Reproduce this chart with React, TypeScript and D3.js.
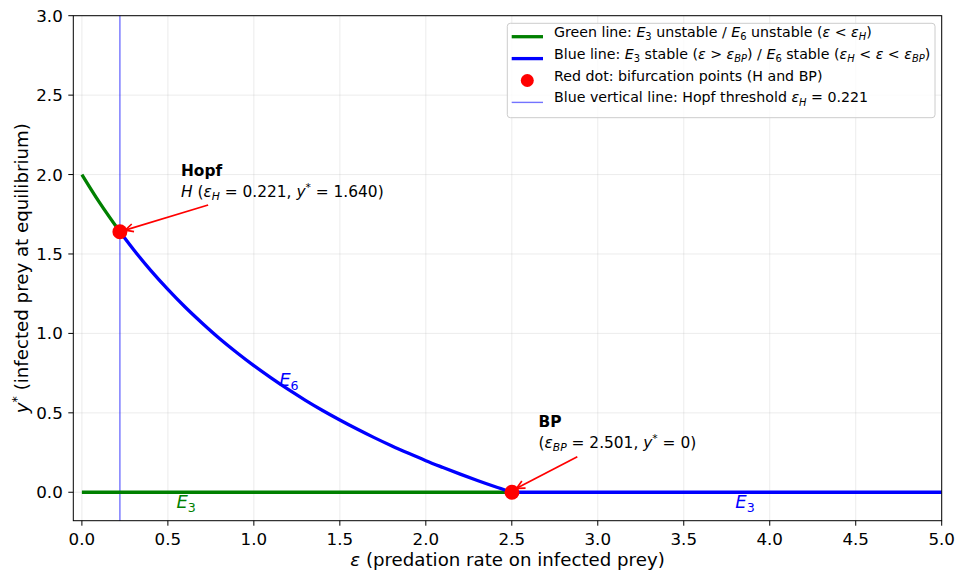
import React from "react";
import * as d3 from "d3";

const W = 957;
const H = 572;

// E6 branch (y* vs epsilon)
const e6Eps = [0, 0.1, 0.221, 0.3, 0.4, 0.5, 0.6, 0.7, 0.8, 0.9, 1.0, 1.1, 1.2, 1.3, 1.4, 1.5, 1.6, 1.7, 1.8, 1.9, 2.0, 2.1, 2.2, 2.3, 2.4, 2.501];
const e6Y = [2.0, 1.828, 1.64, 1.528, 1.397, 1.277, 1.166, 1.064, 0.968, 0.88, 0.797, 0.72, 0.647, 0.579, 0.515, 0.455, 0.398, 0.344, 0.293, 0.245, 0.199, 0.156, 0.114, 0.074, 0.036, 0];
const epsH = 0.221;
const yH = 1.64;
const epsBP = 2.501;
const yBP = 0;
const epsMax = 5.0;
const xTicks = [0, 0.5, 1, 1.5, 2, 2.5, 3, 3.5, 4, 4.5, 5];
const yTicks = [0, 0.5, 1, 1.5, 2, 2.5, 3];

type Seg = { t: string; it?: boolean; sub?: boolean; sup?: boolean; b?: boolean };

function MT({ segs, fs }: { segs: Seg[]; fs: number }) {
  let cur = 0;
  return (
    <>
      {segs.map((s, i) => {
        const target = s.sub ? fs * 0.22 : s.sup ? -fs * 0.38 : 0;
        const dy = target - cur;
        cur = target;
        return (
          <tspan
            key={i}
            dy={dy}
            fontStyle={s.it ? "italic" : "normal"}
            fontWeight={s.b ? "bold" : "normal"}
            fontSize={s.sub || s.sup ? fs * 0.7 : fs}
          >
            {s.t}
          </tspan>
        );
      })}
    </>
  );
}

export default function App() {
  const m = { l: 73.3, r: 941.7, t: 15.7, b: 520.7 };
  const x = d3.scaleLinear().domain([-0.05, epsMax]).range([m.l, m.r]);
  const y = d3.scaleLinear().domain([-0.179, 3.0]).range([m.b, m.t]);

  const pts = e6Eps.map((e, i) => [e, e6Y[i]] as [number, number]);
  const line = d3
    .line<[number, number]>()
    .x((d) => x(d[0]))
    .y((d) => y(d[1]))
    .curve(d3.curveMonotoneX);
  const greenE6 = pts.filter((d) => d[0] <= epsH);
  const blueE6 = pts.filter((d) => d[0] >= epsH);

  const tickFs = 16.7;
  const labFs = 18.2;
  const legFs = 14.2;
  const annFs = 15.4;
  const eFs = 18;
  const lw = 3.3;

  const arrow = (x0: number, y0: number, x1: number, y1: number) => {
    const ax0 = x(x0), ay0 = y(y0), ax1 = x(x1), ay1 = y(y1);
    const ang = Math.atan2(ay1 - ay0, ax1 - ax0);
    const hl = 8, hw = 4;
    const bx = ax1 - hl * Math.cos(ang), by = ay1 - hl * Math.sin(ang);
    const px = -Math.sin(ang) * hw, py = Math.cos(ang) * hw;
    return (
      <g stroke="red" strokeWidth={1.7} fill="none">
        <line x1={ax0} y1={ay0} x2={ax1} y2={ay1} />
        <path d={`M${bx + px},${by + py}L${ax1},${ay1}L${bx - px},${by - py}`} />
      </g>
    );
  };

  const legRows: { kind: string; segs: Seg[] }[] = [
    {
      kind: "green",
      segs: [
        { t: "Green line: " }, { t: "E", it: true }, { t: "3", sub: true }, { t: " unstable / " },
        { t: "E", it: true }, { t: "6", sub: true }, { t: " unstable (" }, { t: "ε", it: true },
        { t: " < " }, { t: "ε", it: true }, { t: "H", it: true, sub: true }, { t: ")" },
      ],
    },
    {
      kind: "blue",
      segs: [
        { t: "Blue line: " }, { t: "E", it: true }, { t: "3", sub: true }, { t: " stable (" },
        { t: "ε", it: true }, { t: " > " }, { t: "ε", it: true }, { t: "BP", it: true, sub: true },
        { t: ") / " }, { t: "E", it: true }, { t: "6", sub: true }, { t: " stable (" },
        { t: "ε", it: true }, { t: "H", it: true, sub: true }, { t: " < " }, { t: "ε", it: true },
        { t: " < " }, { t: "ε", it: true }, { t: "BP", it: true, sub: true }, { t: ")" },
      ],
    },
    { kind: "dot", segs: [{ t: "Red dot: bifurcation points (H and BP)" }] },
    {
      kind: "vline",
      segs: [
        { t: "Blue vertical line: Hopf threshold " }, { t: "ε", it: true }, { t: "H", it: true, sub: true },
        { t: " = 0.221" },
      ],
    },
  ];

  return (
    <svg width={W} height={H} style={{ position: "absolute", left: 0, top: 0 }} fontFamily="DejaVu Sans">
      <rect width={W} height={H} fill="white" />
      {/* grid */}
      <g stroke="#b0b0b0" strokeOpacity={0.3} strokeWidth={0.8}>
        {xTicks.map((t) => (
          <line key={"gx" + t} x1={x(t)} x2={x(t)} y1={m.t} y2={m.b} />
        ))}
        {yTicks.map((t) => (
          <line key={"gy" + t} x1={m.l} x2={m.r} y1={y(t)} y2={y(t)} />
        ))}
      </g>
      {/* vertical Hopf line */}
      <line x1={x(epsH)} x2={x(epsH)} y1={m.t} y2={m.b} stroke="blue" strokeOpacity={0.55} strokeWidth={1.4} />
      {/* E3 branch */}
      <line x1={x(0)} x2={x(epsBP)} y1={y(0)} y2={y(0)} stroke="green" strokeWidth={lw} />
      <line x1={x(epsBP)} x2={x(epsMax)} y1={y(0)} y2={y(0)} stroke="blue" strokeWidth={lw} />
      {/* E6 branch */}
      <path d={line(greenE6) || ""} fill="none" stroke="green" strokeWidth={lw} />
      <path d={line(blueE6) || ""} fill="none" stroke="blue" strokeWidth={lw} />
      {/* bifurcation points */}
      <circle cx={x(epsH)} cy={y(yH)} r={7.5} fill="red" />
      <circle cx={x(epsBP)} cy={y(yBP)} r={7.5} fill="red" />
      {/* labels on branches */}
      <text x={x(1.147)} y={y(0.67)} fill="blue" fontSize={eFs}>
        <MT fs={eFs} segs={[{ t: "E", it: true }, { t: "6", sub: true }]} />
      </text>
      <text x={x(0.55)} y={y(-0.1)} fill="green" fontSize={eFs}>
        <MT fs={eFs} segs={[{ t: "E", it: true }, { t: "3", sub: true }]} />
      </text>
      <text x={x(3.8)} y={y(-0.1)} fill="blue" fontSize={eFs}>
        <MT fs={eFs} segs={[{ t: "E", it: true }, { t: "3", sub: true }]} />
      </text>
      {/* annotations */}
      <text x={x(0.576)} y={y(1.99)} fontSize={annFs} fontWeight="bold">Hopf</text>
      <text x={x(0.576)} y={y(1.86)} fontSize={annFs}>
        <MT
          fs={annFs}
          segs={[
            { t: "H", it: true }, { t: " (" }, { t: "ε", it: true }, { t: "H", it: true, sub: true },
            { t: " = 0.221,  " }, { t: "y", it: true }, { t: "*", sup: true }, { t: " = 1.640)" },
          ]}
        />
      </text>
      {arrow(0.734, 1.808, 0.252, 1.65)}
      <text x={x(2.655)} y={y(0.413)} fontSize={annFs} fontWeight="bold">BP</text>
      <text x={x(2.655)} y={y(0.281)} fontSize={annFs}>
        <MT
          fs={annFs}
          segs={[
            { t: "(" }, { t: "ε", it: true }, { t: "BP", it: true, sub: true },
            { t: " = 2.501,  " }, { t: "y", it: true }, { t: "*", sup: true }, { t: " = 0)" },
          ]}
        />
      </text>
      {arrow(2.881, 0.224, 2.528, 0.025)}
      {/* spines */}
      <rect x={m.l} y={m.t} width={m.r - m.l} height={m.b - m.t} fill="none" stroke="black" strokeWidth={1} />
      {/* ticks */}
      {xTicks.map((t) => (
        <g key={"xt" + t}>
          <line x1={x(t)} x2={x(t)} y1={m.b} y2={m.b + 5} stroke="black" />
          <text x={x(t)} y={m.b + 24.5} fontSize={tickFs} textAnchor="middle">{d3.format(".1f")(t)}</text>
        </g>
      ))}
      {yTicks.map((t) => (
        <g key={"yt" + t}>
          <line x1={m.l - 5} x2={m.l} y1={y(t)} y2={y(t)} stroke="black" />
          <text x={m.l - 10.5} y={y(t)} dy="0.36em" fontSize={tickFs} textAnchor="end">{d3.format(".1f")(t)}</text>
        </g>
      ))}
      {/* axis labels */}
      <text x={(m.l + m.r) / 2} y={566} fontSize={labFs} textAnchor="middle">
        <MT fs={labFs} segs={[{ t: "ε", it: true }, { t: " (predation rate on infected prey)" }]} />
      </text>
      <text transform={`translate(27.5,${(m.t + m.b) / 2}) rotate(-90)`} fontSize={labFs} textAnchor="middle">
        <MT fs={labFs} segs={[{ t: "y", it: true }, { t: "*", sup: true }, { t: " (infected prey at equilibrium)" }]} />
      </text>
      {/* legend */}
      <g>
        <rect x={507.3} y={23.3} width={427.7} height={94.4} rx={3} fill="white" fillOpacity={0.8} stroke="#cccccc" strokeWidth={1} />
        {legRows.map((r, i) => {
          const cy = 36.7 + i * 21.9;
          return (
            <g key={"lg" + i}>
              {r.kind === "green" && <line x1={511.7} x2={543} y1={cy} y2={cy} stroke="green" strokeWidth={lw} />}
              {r.kind === "blue" && <line x1={511.7} x2={543} y1={cy} y2={cy} stroke="blue" strokeWidth={lw} />}
              {r.kind === "dot" && <circle cx={527.3} cy={cy} r={6.5} fill="red" />}
              {r.kind === "vline" && <line x1={511.7} x2={543} y1={cy} y2={cy} stroke="blue" strokeOpacity={0.55} strokeWidth={1.4} />}
              <text x={554} y={cy} dy="0.36em" fontSize={legFs}>
                <MT fs={legFs} segs={r.segs} />
              </text>
            </g>
          );
        })}
      </g>
    </svg>
  );
}
